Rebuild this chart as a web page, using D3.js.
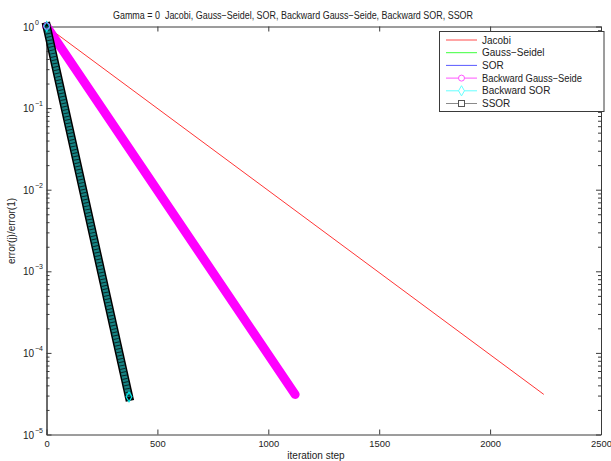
<!DOCTYPE html>
<html>
<head>
<meta charset="utf-8">
<script src="https://cdn.jsdelivr.net/npm/d3@7"></script>
<style>
  html, body { margin: 0; padding: 0; background: #fff; }
  svg { display: block; font-family: "Liberation Sans", Arial, sans-serif; }
</style>
</head>
<body>
<svg id="chart" width="611" height="461"></svg>
<script>
// Convergence of the relative error for each iterative method (Gamma = 0).
const methods    = ["Jacobi", "Gauss\u2212Seidel", "SOR", "Backward Gauss\u2212Seide", "Backward SOR", "SSOR"];
const firstStep  = [1, 1, 1, 1, 1, 1];
const lastStep   = [2242, 1121, 372, 1121, 372, 372];
const firstError = [1, 1, 1, 1, 1, 1];
const lastError  = [3.1e-5, 3.1e-5, 2.9e-5, 3.1e-5, 2.9e-5, 2.9e-5];

const xTickValues = [0, 500, 1000, 1500, 2000, 2500];
const yDecades    = [1e-5, 1e-4, 1e-3, 1e-2, 1e-1, 1];
const yExponents  = ["\u22125", "\u22124", "\u22123", "\u22122", "\u22121", "0"];

const titleText = "Gamma = 0\u00a0\u00a0Jacobi, Gauss\u2212Seidel, SOR, Backward Gauss\u2212Seide, Backward SOR, SSOR";
const xLabel = "iteration step";
const yLabel = "error(j)/error(1)";

const svg = d3.select("#chart");
const plot = { left: 46.5, right: 601, top: 26.5, bottom: 434.5 };

const x = d3.scaleLinear().domain([0, 2500]).range([plot.left, plot.right]);
const y = d3.scaleLog().domain([1e-5, 1]).range([plot.bottom, plot.top]);

const axisColor = "#3a3a3a";
const textColor = "#222";
const fontSize = 10;
const tickFontSize = 9.4;

// per-series point lists
const seriesData = methods.map((name, i) => ({
  name,
  points: [[firstStep[i], firstError[i]], [lastStep[i], lastError[i]]]
}));
const line = d3.line().x(d => x(d[0])).y(d => y(d[1]));

// ---- axes box with inward ticks ----
const minorTicks = y.ticks().filter(v => !yDecades.some(d => Math.abs(v / d - 1) < 1e-9));

function styleAxis(g) {
  g.selectAll("path.domain").attr("stroke", axisColor).attr("stroke-width", 1);
  g.selectAll(".tick line").attr("stroke", axisColor).attr("stroke-width", 1);
  g.selectAll("text").attr("fill", textColor).style("font-size", tickFontSize + "px")
   .style("font-family", "'Liberation Sans', Arial, sans-serif");
}

svg.append("g").attr("transform", `translate(0,${plot.bottom})`)
  .call(d3.axisBottom(x).tickValues(xTickValues).tickSize(-5).tickSizeOuter(0).tickPadding(6).tickFormat(d3.format("d")))
  .call(styleAxis);
svg.append("g").attr("transform", `translate(0,${plot.top})`)
  .call(d3.axisTop(x).tickValues(xTickValues).tickSize(-5).tickSizeOuter(0).tickFormat(""))
  .call(styleAxis);

svg.append("g").attr("transform", `translate(${plot.left},0)`)
  .call(d3.axisLeft(y).tickValues(minorTicks).tickSize(-3).tickSizeOuter(0).tickFormat(""))
  .call(styleAxis);
svg.append("g").attr("transform", `translate(${plot.left},0)`)
  .call(d3.axisLeft(y).tickValues(yDecades).tickSize(-5).tickSizeOuter(0).tickFormat(""))
  .call(styleAxis);
svg.append("g").attr("transform", `translate(${plot.right},0)`)
  .call(d3.axisRight(y).tickValues(minorTicks).tickSize(-3).tickSizeOuter(0).tickFormat(""))
  .call(styleAxis);
svg.append("g").attr("transform", `translate(${plot.right},0)`)
  .call(d3.axisRight(y).tickValues(yDecades).tickSize(-5).tickSizeOuter(0).tickFormat(""))
  .call(styleAxis);

// y labels as 10^k
const yLab = svg.append("g");
yDecades.forEach((v, i) => {
  yLab.append("text")
    .attr("x", 34).attr("y", y(v) + 4)
    .attr("text-anchor", "end")
    .style("font-size", fontSize + "px").attr("fill", textColor)
    .text("10");
  yLab.append("text")
    .attr("x", 35).attr("y", y(v) - 2)
    .style("font-size", "7px").attr("fill", textColor)
    .text(yExponents[i]);
});

// ---- series ----
const colors = ["#ff0000", "#00ff00", "#0000ff", "#ff00ff", "#00ffff", "#000000"];
const marks = svg.append("g");

// Jacobi, Gauss-Seidel, SOR: plain lines
[0, 1, 2].forEach(i => {
  marks.append("path").datum(seriesData[i].points)
    .attr("d", line).attr("fill", "none")
    .attr("stroke", colors[i]).attr("stroke-width", 0.8);
});

// Backward Gauss-Seidel: dense circle markers form a solid band
marks.append("path").datum(seriesData[3].points)
  .attr("d", line).attr("fill", "none")
  .attr("stroke", "#ff00ff").attr("stroke-width", 9).attr("stroke-linecap", "round");

// Backward SOR diamonds under SSOR squares
const bsor = seriesData[4].points;
marks.append("path").datum(bsor)
  .attr("d", line).attr("fill", "none")
  .attr("stroke", "#000").attr("stroke-width", 8.5).attr("stroke-linecap", "square");
marks.append("path").datum(bsor)
  .attr("d", line).attr("fill", "none")
  .attr("stroke", "#168282").attr("stroke-width", 5.5);
marks.append("path").datum(seriesData[5].points)
  .attr("d", line).attr("fill", "none")
  .attr("stroke", "#0a2a2a").attr("stroke-width", 5.5).attr("stroke-dasharray", "1 2.4");
// end markers
const diamond = d3.symbol().type(d3.symbolDiamond).size(28);
[[firstStep[4], firstError[4]], [lastStep[4], lastError[4]]].forEach(p => {
  marks.append("path").attr("d", diamond)
    .attr("transform", `translate(${x(p[0])},${y(p[1])})`)
    .attr("fill", "none").attr("stroke", "#00e5e5").attr("stroke-width", 1.2);
});
marks.append("circle")
  .attr("cx", x(firstStep[3])).attr("cy", y(firstError[3]) - 0.5).attr("r", 3.2)
  .attr("fill", "none").attr("stroke", "#b070ff").attr("stroke-width", 1);

// ---- legend ----
const legend = svg.append("g");
legend.append("rect")
  .attr("x", 439.5).attr("y", 31.5).attr("width", 164.5).attr("height", 80)
  .attr("fill", "#fff").attr("stroke", axisColor).attr("stroke-width", 1);
const legendColors = ["#ff4a4a", "#3cff3c", "#5a5aff", "#ff55ff", "#66ffff", "#8a8a8a"];
methods.forEach((name, i) => {
  const ly = 40 + i * 12.7;
  legend.append("line")
    .attr("x1", 446).attr("x2", 477).attr("y1", ly).attr("y2", ly)
    .attr("stroke", legendColors[i]).attr("stroke-width", 1);
  if (i === 3) {
    legend.append("circle").attr("cx", 461.5).attr("cy", ly).attr("r", 3)
      .attr("fill", "#fff").attr("stroke", legendColors[i]);
  } else if (i === 4) {
    legend.append("path").attr("d", d3.symbol().type(d3.symbolDiamond).size(30))
      .attr("transform", `translate(461.5,${ly})`)
      .attr("fill", "#fff").attr("stroke", legendColors[i]);
  } else if (i === 5) {
    legend.append("rect").attr("x", 458.5).attr("y", ly - 3).attr("width", 6).attr("height", 6)
      .attr("fill", "#fff").attr("stroke", "#555");
  }
  legend.append("text")
    .attr("x", 482).attr("y", ly + 3.6)
    .attr("textLength", name.length > 15 ? 100 : null)
    .attr("lengthAdjust", "spacingAndGlyphs")
    .style("font-size", fontSize + "px").attr("fill", textColor)
    .text(name);
});

// ---- titles ----
svg.append("text")
  .attr("x", 113).attr("y", 19)
  .attr("textLength", 360).attr("lengthAdjust", "spacingAndGlyphs")
  .style("font-size", fontSize + "px").attr("fill", textColor)
  .text(titleText);
svg.append("text")
  .attr("x", 316).attr("y", 458.5).attr("text-anchor", "middle")
  .style("font-size", fontSize + "px").attr("fill", textColor)
  .text(xLabel);
svg.append("text")
  .attr("transform", `translate(15,231) rotate(-90)`).attr("text-anchor", "middle")
  .style("font-size", fontSize + "px").attr("fill", textColor)
  .text(yLabel);
</script>
</body>
</html>
